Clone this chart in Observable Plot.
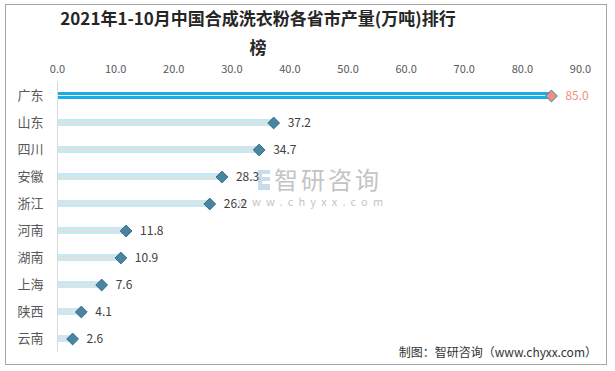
<!DOCTYPE html>
<html>
<head>
<meta charset="utf-8">
<script src="https://cdn.jsdelivr.net/npm/d3@7"></script>
<script src="https://cdn.jsdelivr.net/npm/@observablehq/plot@0.6"></script>
<style>
  body { margin: 0; background: #fff; font-family: "Noto Sans CJK SC", "Noto Sans", sans-serif; }
  #wrap { position: relative; width: 615px; height: 371px; overflow: hidden; background: #fff; }
  #frame { position: absolute; left: 5px; top: 4px; width: 602px; height: 361px; border: 1px solid #a6a6a6; box-sizing: border-box; }
  #title { position: absolute; left: 48px; top: 3px; width: 420px; text-align: center; font-size: 17px; line-height: 29px; font-weight: bold; color: #262626; }
  #chart { position: absolute; left: 0; top: 58px; }
  #caption { position: absolute; right: 18px; top: 343px; font-size: 12px; color: #333; white-space: nowrap; }
  #wm { position: absolute; left: 238px; top: 164px; color: #c4c4c4; }
  #wm .big { position: absolute; left: 36px; top: 0; font-size: 24px; letter-spacing: 3px; white-space: nowrap; line-height: 30px; }
  #wm .small { position: absolute; left: 0; top: 29px; font-size: 11px; letter-spacing: 5.2px; white-space: nowrap; }
  #wm .ic1 { position: absolute; left: 20px; top: 6px; width: 12px; height: 20px; background: #c9dcea; }
  #wm .ic2 { position: absolute; left: 24px; top: 10px; width: 8px; height: 3px; background: #fff; }
  #wm .ic3 { position: absolute; left: 24px; top: 17px; width: 8px; height: 3px; background: #fff; }
</style>
</head>
<body>
<div id="wrap">
  <div id="frame"></div>
  <div id="title">2021年1-10月中国合成洗衣粉各省市产量(万吨)排行<br>榜</div>
  <div id="wm"><div class="ic1"></div><div class="ic2"></div><div class="ic3"></div><div class="big">智研咨询</div><div class="small">www.chyxx.com</div></div>
  <div id="chart"></div>
  <div id="caption">制图：智研咨询（www.chyxx.com）</div>
</div>
<script>
const provinces = ["广东", "山东", "四川", "安徽", "浙江", "河南", "湖南", "上海", "陕西", "云南"];
const values = [85.0, 37.2, 34.7, 28.3, 26.2, 11.8, 10.9, 7.6, 4.1, 2.6];
const xTicks = [0, 10, 20, 30, 40, 50, 60, 70, 80, 90];

const data = provinces.map((p, i) => ({ province: p, value: values[i], top: i === 0 }));

const chart = Plot.plot({
  width: 615,
  height: 313,
  marginLeft: 57,
  marginRight: 35,
  marginTop: 23.5,
  marginBottom: 19.5,
  style: { fontFamily: "'Noto Sans CJK SC', 'Noto Sans', sans-serif", background: "transparent", color: "#595959" },
  x: { domain: [0, 90] },
  y: { domain: provinces, padding: 0 },
  color: { type: "identity" },
  marks: [
    Plot.barX(data, { x: "value", y: "province", fill: d => d.top ? "#1aaee8" : "#c9e8f6", insetTop: 10, insetBottom: 10 }),
    Plot.barX(data, { x: "value", y: "province", fill: d => d.top ? "#fbeede" : "#f6dcc2", insetTop: 13, insetBottom: 13 }),
    Plot.ruleX([0], { stroke: "#d9d9d9", strokeWidth: 1 }),
    Plot.dot(data, { x: "value", y: "province", symbol: "diamond2", r: 5.3, fill: d => d.top ? "#f0907a" : "#4a84a0", stroke: d => d.top ? "#2d86b3" : "#336f8c", strokeWidth: 1 }),
    Plot.text(data, { x: "value", y: "province", text: d => d.value.toFixed(1), dx: 14, textAnchor: "start", fontSize: 12, fill: d => d.top ? "#f0907a" : "#404040" }),
    Plot.axisX({ anchor: "top", ticks: xTicks, tickFormat: d => d.toFixed(1), tickSize: 0, tickPadding: 9, label: null, fontSize: 11 }),
    Plot.axisY({ tickSize: 0, tickPadding: 14, label: null, fontSize: 13 })
  ]
});
document.getElementById("chart").appendChild(chart);
</script>
</body>
</html>
